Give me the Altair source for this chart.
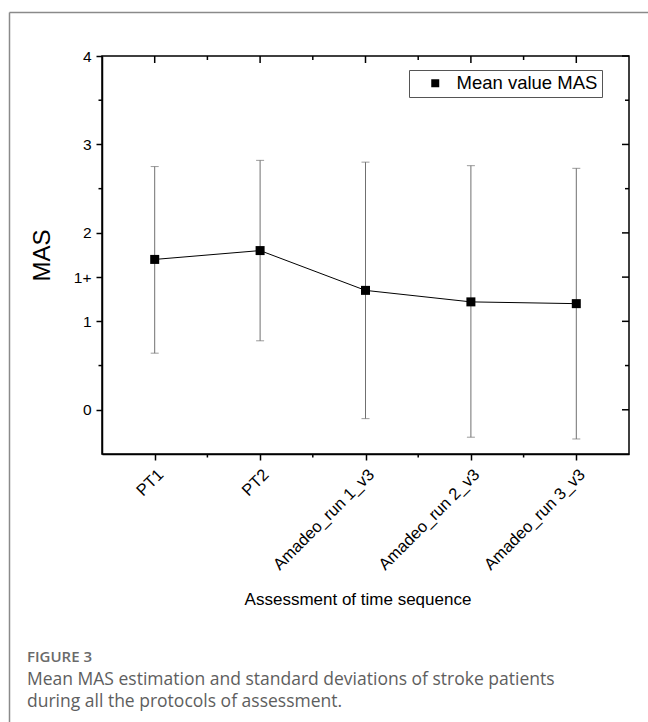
import altair as alt
import pandas as pd

# ---- data ----
categories = ["PT1", "PT2", "Amadeo_run 1_v3", "Amadeo_run 2_v3", "Amadeo_run 3_v3"]
positions = [1, 2, 3, 4, 5]
mean_mas = [1.70, 1.80, 1.35, 1.22, 1.20]
lower_sd = [0.64, 0.78, -0.10, -0.31, -0.33]
upper_sd = [2.75, 2.82, 2.80, 2.76, 2.73]
series_name = ["Mean value MAS"] * 5

y_major = [0, 1, 1.5, 2, 3, 4]
y_minor = [0.5, 2.5, 3.5]
x_major = [1, 2, 3, 4, 5]
x_minor = [1.5, 2.5, 3.5, 4.5]

fig_label = "FIGURE 3"
caption_lines = [
    "Mean MAS estimation and standard deviations of stroke patients",
    "during all the protocols of assessment.",
]

W, H = 527, 398
FONT = "Liberation Sans"

df = pd.DataFrame({"x": positions, "cat": categories, "mean": mean_mas,
                   "lo": lower_sd, "hi": upper_sd, "series": series_name})

label_expr = "[" + ",".join(f"'{c}'" for c in categories) + "][datum.value-1]"

x_scale = alt.Scale(domain=[0.5, 5.5], nice=False, zero=False)
y_scale = alt.Scale(domain=[-0.5, 4], nice=False, zero=False)

x_axis = alt.Axis(values=x_major, labelExpr=label_expr, labelAngle=315,
                  labelAlign="right", labelBaseline="top", labelFontSize=16.5,
                  labelFont=FONT, labelColor="black", labelPadding=6,
                  labelOverlap=False, labelFlush=False,
                  tickSize=6, tickColor="black", tickWidth=1.5,
                  domainColor="black", domainWidth=1.5, grid=False,
                  title="Assessment of time sequence", titleFontSize=17,
                  titleFont=FONT, titleFontWeight="normal", titleColor="black",
                  titleX=255.5, titleY=145, titleBaseline="middle", titleAlign="center")
y_axis = alt.Axis(values=y_major,
                  labelExpr="datum.value == 1.5 ? '1+' : datum.label",
                  labelFontSize=15.5, labelFont=FONT, labelColor="black",
                  labelPadding=5, labelOverlap=False, labelFlush=False,
                  tickSize=6, tickColor="black", tickWidth=1.5,
                  domainColor="black", domainWidth=1.5, grid=False,
                  title="MAS", titleFontSize=24, titleFont=FONT,
                  titleFontWeight="normal", titleColor="black",
                  titleX=-59.5, titleY=199, titleAngle=270,
                  titleBaseline="middle", titleAlign="center")


def X(field):
    return alt.X(field, type="quantitative", scale=x_scale, axis=x_axis)


def Y(field):
    return alt.Y(field, type="quantitative", scale=y_scale, axis=y_axis)


base = alt.Chart(df)

err = base.mark_rule(color="#707070", strokeWidth=1).encode(
    x=X("x"), y=Y("lo"), y2="hi")
cap_hi = base.mark_tick(color="#707070", orient="horizontal", size=8, thickness=1).encode(
    x=X("x"), y=Y("hi"))
cap_lo = base.mark_tick(color="#707070", orient="horizontal", size=8, thickness=1).encode(
    x=X("x"), y=Y("lo"))
line = base.mark_line(color="black", strokeWidth=1).encode(x=X("x"), y=Y("mean"))
pts = base.mark_square(size=81, opacity=1, filled=True).encode(
    x=X("x"), y=Y("mean"),
    color=alt.Color("series:N", scale=alt.Scale(range=["black"]),
                    legend=alt.Legend(title=None, orient="none", legendX=307, legendY=14,
                                      symbolType="square", symbolSize=64,
                                      symbolFillColor="black", symbolStrokeWidth=0,
                                      symbolOffset=13, labelOffset=12,
                                      labelFontSize=18.5, labelFont=FONT, labelColor="black",
                                      padding=4, strokeColor="#555555")))

# mirrored / minor ticks
dxmaj = pd.DataFrame({"x": x_major})
dxmin = pd.DataFrame({"x": x_minor})
dymaj = pd.DataFrame({"y": y_major})
dymin = pd.DataFrame({"y": y_minor})
tk = dict(color="black", strokeWidth=1.5)
top_major = alt.Chart(dxmaj).mark_rule(**tk).encode(x=X("x"), y=alt.value(0), y2=alt.value(7))
top_minor = alt.Chart(dxmin).mark_rule(**tk).encode(x=X("x"), y=alt.value(0), y2=alt.value(4))
bot_minor = alt.Chart(dxmin).mark_rule(**tk).encode(x=X("x"), y=alt.value(H), y2=alt.value(H + 3.5))
right_major = alt.Chart(dymaj).mark_rule(**tk).encode(y=Y("y"), x=alt.value(W - 7), x2=alt.value(W))
right_minor = alt.Chart(dymin).mark_rule(**tk).encode(y=Y("y"), x=alt.value(W - 4), x2=alt.value(W))
left_minor = alt.Chart(dymin).mark_rule(**tk).encode(y=Y("y"), x=alt.value(-3.5), x2=alt.value(0))

# outer figure frame
one = pd.DataFrame({"k": [0]})
frame_top = alt.Chart(one).mark_rule(color="#8a8a8a", strokeWidth=1.5).encode(
    x=alt.value(-92.5), x2=alt.value(W + 30), y=alt.value(-43.5))
frame_left = alt.Chart(one).mark_rule(color="#8a8a8a", strokeWidth=1.5).encode(
    x=alt.value(-92.5), y=alt.value(-43.5), y2=alt.value(H + 300))

# caption
fig_txt = alt.Chart(pd.DataFrame({"t": [fig_label]})).mark_text(
    align="left", baseline="alphabetic", font="Open Sans", fontSize=15,
    fontWeight=600, color="#6a6a6a").encode(
    text="t:N", x=alt.value(-75), y=alt.value(606))
cap1 = alt.Chart(pd.DataFrame({"t": [caption_lines[0]]})).mark_text(
    align="left", baseline="alphabetic", font="Open Sans", fontSize=17.5,
    color="#5e5e5e").encode(text="t:N", x=alt.value(-75), y=alt.value(629))
cap2 = alt.Chart(pd.DataFrame({"t": [caption_lines[1]]})).mark_text(
    align="left", baseline="alphabetic", font="Open Sans", fontSize=17.5,
    color="#5e5e5e").encode(text="t:N", x=alt.value(-75), y=alt.value(651))

chart = alt.layer(
    frame_top, frame_left,
    err, cap_hi, cap_lo, line, pts,
    top_major, top_minor, bot_minor, right_major, right_minor, left_minor,
    fig_txt, cap1, cap2,
).properties(
    width=W, height=H,
    autosize=alt.AutoSizeParams(type="none"),
    padding={"left": 102, "top": 56, "right": 19, "bottom": 268},
    background="white",
).configure_view(stroke="black", strokeWidth=1.5)

chart.save("out.html", embed_options={"renderer": "svg", "actions": False})
